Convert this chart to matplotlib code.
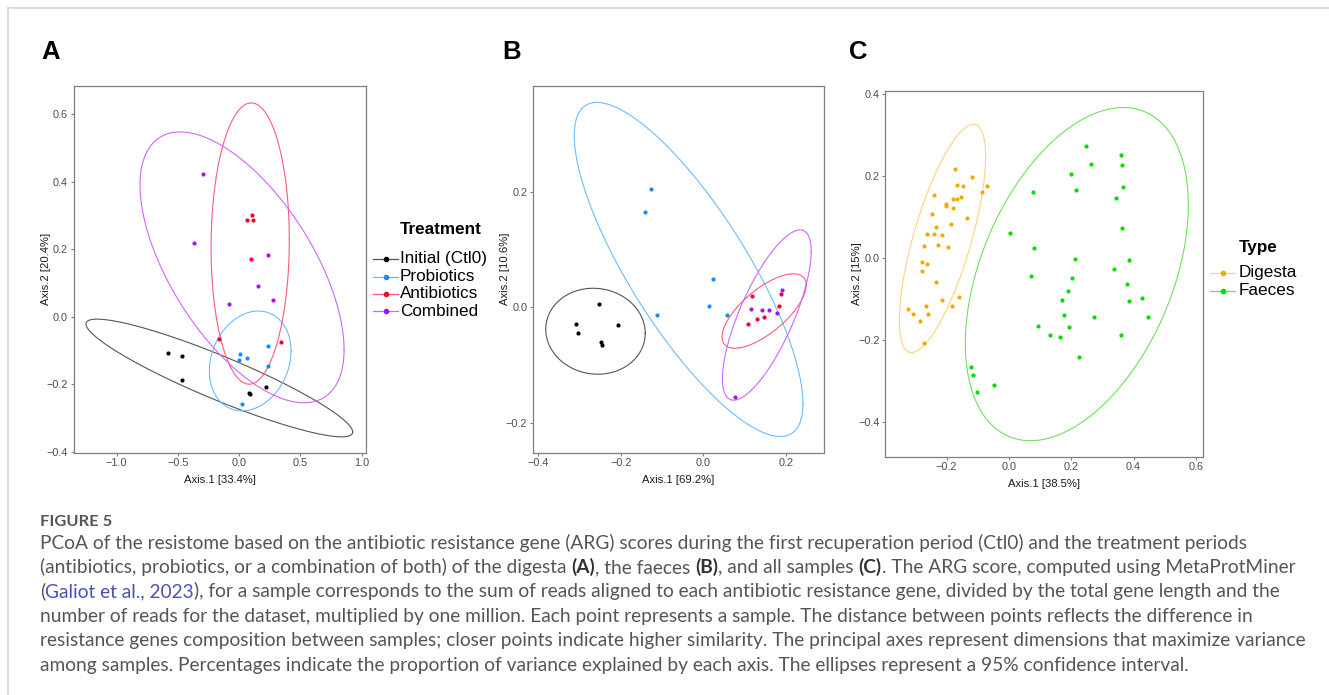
import numpy as np
import matplotlib
matplotlib.use("Agg")
import matplotlib.pyplot as plt
from matplotlib.lines import Line2D

W, H = 1329, 695
plt.rcParams['font.family'] = ['Liberation Sans', 'DejaVu Sans']

# --- DATA: panel A (digesta) ---
a_init_x = [-0.584, -0.470, -0.464, 0.083, 0.088, 0.222]
a_init_y = [-0.108, -0.116, -0.188, -0.225, -0.228, -0.209]
a_prob_x = [0.235, 0.009, 0.061, 0.001, 0.232, 0.020]
a_prob_y = [-0.086, -0.110, -0.123, -0.128, -0.147, -0.259]
a_anti_x = [0.107, 0.061, 0.113, 0.096, 0.339, -0.165]
a_anti_y = [0.303, 0.286, 0.288, 0.171, -0.074, -0.066]
a_comb_x = [-0.293, -0.369, 0.238, 0.151, 0.273, -0.083]
a_comb_y = [0.422, 0.220, 0.184, 0.090, 0.050, 0.037]

# --- DATA: panel B (faeces) ---
b_init_x = [-0.252, -0.309, -0.305, -0.208, -0.248, -0.246]
b_init_y = [0.005, -0.029, -0.045, -0.031, -0.061, -0.065]
b_prob_x = [-0.128, -0.142, -0.113, 0.023, 0.014, 0.057]
b_prob_y = [0.205, 0.165, -0.014, 0.049, 0.002, -0.014]
b_anti_x = [0.118, 0.187, 0.183, 0.107, 0.129, 0.147]
b_anti_y = [0.020, 0.023, 0.003, -0.029, -0.021, -0.016]
b_comb_x = [0.190, 0.116, 0.142, 0.159, 0.178, 0.077]
b_comb_y = [0.030, -0.003, -0.004, -0.005, -0.010, -0.156]

# --- DATA: panel C (all samples) ---
c_dig_x = [-0.174, -0.119, -0.166, -0.148, -0.072, -0.240, -0.088, -0.155, -0.179,
           -0.166, -0.203, -0.202, -0.181, -0.248, -0.135, -0.185, -0.233, -0.264,
           -0.242, -0.214, -0.228, -0.272, -0.196, -0.279, -0.263, -0.278, -0.233,
           -0.215, -0.160, -0.266, -0.182, -0.323, -0.309, -0.259, -0.286, -0.274]
c_dig_y = [0.218, 0.198, 0.178, 0.176, 0.176, 0.153, 0.160, 0.148, 0.143,
           0.144, 0.132, 0.127, 0.122, 0.107, 0.098, 0.083, 0.075, 0.059,
           0.059, 0.055, 0.031, 0.028, 0.026, -0.011, -0.014, -0.033, -0.059,
           -0.102, -0.096, -0.118, -0.118, -0.124, -0.137, -0.137, -0.153, -0.207]
c_fae_x = [0.246, 0.265, 0.359, 0.363, 0.198, 0.365, 0.215, 0.078, 0.345, 0.362,
           0.004, 0.081, 0.212, 0.386, 0.337, 0.071, 0.204, 0.380, 0.188, 0.385,
           0.428, 0.171, 0.178, 0.274, 0.448, 0.094, 0.194, 0.133, 0.165, 0.361,
           0.226, -0.123, -0.114, -0.103, -0.049]
c_fae_y = [0.272, 0.230, 0.251, 0.226, 0.204, 0.173, 0.166, 0.162, 0.147, 0.072,
           0.060, 0.024, -0.003, -0.006, -0.028, -0.045, -0.050, -0.063, -0.080, -0.104,
           -0.097, -0.102, -0.140, -0.145, -0.144, -0.167, -0.169, -0.188, -0.192, -0.189,
           -0.241, -0.267, -0.285, -0.326, -0.311]

# 95% ellipses: x range, y range, x where the ellipse peaks
a_ell_xmin = [-1.251, -0.244, -0.230, -0.810]
a_ell_xmax = [0.926, 0.423, 0.409, 0.856]
a_ell_ymin = [-0.356, -0.279, -0.200, -0.255]
a_ell_ymax = [-0.007, 0.017, 0.634, 0.548]
a_ell_xtop = [-1.160, 0.156, 0.098, -0.483]

b_ell_xmin = [-0.382, -0.313, 0.045, 0.046]
b_ell_xmax = [-0.141, 0.241, 0.249, 0.261]
b_ell_ymin = [-0.116, -0.224, -0.071, -0.161]
b_ell_ymax = [0.033, 0.355, 0.058, 0.134]
b_ell_xtop = [-0.267, -0.258, 0.218, 0.234]

c_ell_xmin = [-0.352, -0.140]
c_ell_xmax = [-0.075, 0.576]
c_ell_ymin = [-0.231, -0.446]
c_ell_ymax = [0.326, 0.367]
c_ell_xtop = [-0.114, 0.367]

treat_labels = ['Initial (Ctl0)', 'Probiotics', 'Antibiotics', 'Combined']
type_labels = ['Digesta', 'Faeces']

treat_pt_col = ['#000000', '#1a8cff', '#f0002e', '#a812f0']
treat_ln_col = ['#555555', '#6cbcff', '#ff5a78', '#cf66ff']
type_pt_col = ['#f2aa00', '#00dc00']
type_ln_col = ['#ffd27f', '#6ee05e']


def px(x, y):
    return x / W, 1 - y / H


def box(l, t, r, b):
    return [l / W, 1 - b / H, (r - l) / W, (b - t) / H]


def ellipse(ax, xmin, xmax, ymin, ymax, xtop, col):
    cx, rx = (xmin + xmax) / 2, (xmax - xmin) / 2
    cy, ry = (ymin + ymax) / 2, (ymax - ymin) / 2
    d = np.arccos(np.clip((xtop - cx) / rx, -1, 1))
    t = np.linspace(0, 2 * np.pi, 400)
    ax.plot(cx + rx * np.cos(t), cy + ry * np.cos(t - d), color=col, lw=0.8, zorder=2)


def style_ax(ax, xlim, ylim, xt, yt, xlabel, ylabel, ylab_x):
    ax.set_xlim(*xlim)
    ax.set_ylim(*ylim)
    ax.set_xticks(xt)
    ax.set_yticks(yt)
    ax.set_xticklabels([f"{v:.1f}".replace('-', '\u2212') for v in xt])
    ax.set_yticklabels([f"{v:.1f}".replace('-', '\u2212') for v in yt])
    for s in ax.spines.values():
        s.set_color('#7f7f7f')
        s.set_linewidth(0.9)
    ax.tick_params(length=2.5, width=0.8, color='#7f7f7f', labelsize=7.8,
                   labelcolor='#4d4d4d', pad=1.5)
    ax.set_xlabel(xlabel, fontsize=8.1, color='#1a1a1a', labelpad=5)
    ax.set_ylabel(ylabel, fontsize=8.1, color='#1a1a1a')
    ax.yaxis.set_label_coords(ylab_x, 0.5)


fig = plt.figure(figsize=(W / 100, H / 100), dpi=100)

# panel A
axA = fig.add_axes(box(73.5, 85.7, 366, 452.7))
for i in range(4):
    ellipse(axA, a_ell_xmin[i], a_ell_xmax[i], a_ell_ymin[i], a_ell_ymax[i], a_ell_xtop[i], treat_ln_col[i])
for xs, ys, c in zip([a_init_x, a_prob_x, a_anti_x, a_comb_x],
                     [a_init_y, a_prob_y, a_anti_y, a_comb_y], treat_pt_col):
    axA.scatter(xs, ys, s=9, color=c, lw=0, zorder=3)
style_ax(axA, (-1.353, 1.035), (-0.403, 0.685), [-1.0, -0.5, 0.0, 0.5, 1.0],
         [-0.4, -0.2, 0.0, 0.2, 0.4, 0.6], 'Axis.1 [33.4%]', 'Axis.2 [20.4%]', -0.076)

# panel B
axB = fig.add_axes(box(532.7, 85.7, 824, 452.7))
for i in range(4):
    ellipse(axB, b_ell_xmin[i], b_ell_xmax[i], b_ell_ymin[i], b_ell_ymax[i], b_ell_xtop[i], treat_ln_col[i])
for xs, ys, c in zip([b_init_x, b_prob_x, b_anti_x, b_comb_x],
                     [b_init_y, b_prob_y, b_anti_y, b_comb_y], treat_pt_col):
    axB.scatter(xs, ys, s=9, color=c, lw=0, zorder=3)
style_ax(axB, (-0.4136, 0.292), (-0.252, 0.384), [-0.4, -0.2, 0.0, 0.2],
         [-0.2, 0.0, 0.2], 'Axis.1 [69.2%]', 'Axis.2 [10.6%]', -0.077)

# panel C
axC = fig.add_axes(box(885, 90.7, 1203.3, 456.7))
for i in range(2):
    ellipse(axC, c_ell_xmin[i], c_ell_xmax[i], c_ell_ymin[i], c_ell_ymax[i], c_ell_xtop[i], type_ln_col[i])
for xs, ys, c in zip([c_dig_x, c_fae_x], [c_dig_y, c_fae_y], type_pt_col):
    axC.scatter(xs, ys, s=9, color=c, lw=0, zorder=3)
style_ax(axC, (-0.398, 0.624), (-0.485, 0.408), [-0.2, 0.0, 0.2, 0.4, 0.6],
         [-0.4, -0.2, 0.0, 0.2, 0.4], 'Axis.1 [38.5%]', 'Axis.2 [15%]', -0.071)

# panel letters
for letter, x in zip(['A', 'B', 'C'], [51, 512, 858]):
    fig.text(*px(x, 52), letter, fontsize=18.5, fontweight='bold', ha='center', va='center')


# legends drawn by hand
def legend(x_line, x_text, y_title, y_items, title, labels, pcol, lcol):
    fig.text(*px(x_text, y_title), title, fontsize=12.3, fontweight='bold', ha='left', va='center')
    for y, lab, pc, lc in zip(y_items, labels, pcol, lcol):
        fx0, fy = px(x_line, y)
        fx1, _ = px(x_line + 25, y)
        fig.add_artist(Line2D([fx0, fx1], [fy, fy], color=lc, lw=0.9, transform=fig.transFigure))
        fig.add_artist(Line2D([(fx0 + fx1) / 2], [fy], marker='o', ms=3, color=pc, lw=0,
                              transform=fig.transFigure))
        fig.text(*px(x_text, y), lab, fontsize=12.3, ha='left', va='center')


legend(373, 400, 230, [259, 276.5, 294, 311], 'Treatment', treat_labels, treat_pt_col, treat_ln_col)
legend(1210, 1239, 247, [272.5, 290.5], 'Type', type_labels, type_pt_col, type_ln_col)

# frame lines of the page
fig.add_artist(Line2D([7.5 / W, 1], [1 - 7.5 / H] * 2, color='#d6d6d6', lw=1.2, transform=fig.transFigure))
fig.add_artist(Line2D([7.5 / W] * 2, [0, 1 - 7.5 / H], color='#d6d6d6', lw=1.2, transform=fig.transFigure))

# caption
cap_font = ['Lato', 'DejaVu Sans']
cap_col = '#555555'
link_col = '#4b52b5'
cap_lines = [
    [("PCoA of the resistome based on the antibiotic resistance gene (ARG) scores during the first "
      "recuperation period (Ctl0) and the treatment periods", 'n')],
    [("(antibiotics, probiotics, or a combination of both) of the digesta ", 'n'), ("(A)", 'b'),
     (", the faeces ", 'n'), ("(B)", 'b'), (", and all samples ", 'n'), ("(C)", 'b'),
     (". The ARG score, computed using MetaProtMiner", 'n')],
    [("(", 'n'), ("Galiot et al., 2023", 'l'),
     ("), for a sample corresponds to the sum of reads aligned to each antibiotic resistance gene, "
      "divided by the total gene length and the", 'n')],
    [("number of reads for the dataset, multiplied by one million. Each point represents a sample. "
      "The distance between points reflects the difference in", 'n')],
    [("resistance genes composition between samples; closer points indicate higher similarity. "
      "The principal axes represent dimensions that maximize variance", 'n')],
    [("among samples. Percentages indicate the proportion of variance explained by each axis. "
      "The ellipses represent a 95% confidence interval.", 'n')],
]
# right end of each caption line in the reference (pixels)
cap_line_ends = [1300, 1303, 1310, 1268, 1310, 1233]

renderer = fig.canvas.get_renderer()


def text_w(s, size, weight='normal'):
    t = fig.text(0, 0, s + '|', fontsize=size, family=cap_font, fontweight=weight)
    t2 = fig.text(0, 0, '|', fontsize=size, family=cap_font, fontweight=weight)
    w = t.get_window_extent(renderer).width - t2.get_window_extent(renderer).width
    t.remove()
    t2.remove()
    return w


def line_w(runs, size):
    return sum(text_w(s, size, 'bold' if k == 'b' else 'normal') for s, k in runs)


base = 10
size = min(base * (end - 40) / line_w(runs, base) for runs, end in zip(cap_lines, cap_line_ends))

fig.text(*px(40, 526), 'FIGURE 5', fontsize=size * 0.86, family=cap_font, fontweight='bold',
         color=cap_col, ha='left', va='baseline')
for k, runs in enumerate(cap_lines):
    x = 40
    y = 548.5 + 24.4 * k
    for s, kind in runs:
        weight = 'bold' if kind == 'b' else 'normal'
        col = link_col if kind == 'l' else ('#333333' if kind == 'b' else cap_col)
        fig.text(*px(x, y), s, fontsize=size, family=cap_font, fontweight=weight, color=col,
                 ha='left', va='baseline')
        x += text_w(s, size, weight)

fig.savefig('out.png', dpi=100, facecolor='white')
